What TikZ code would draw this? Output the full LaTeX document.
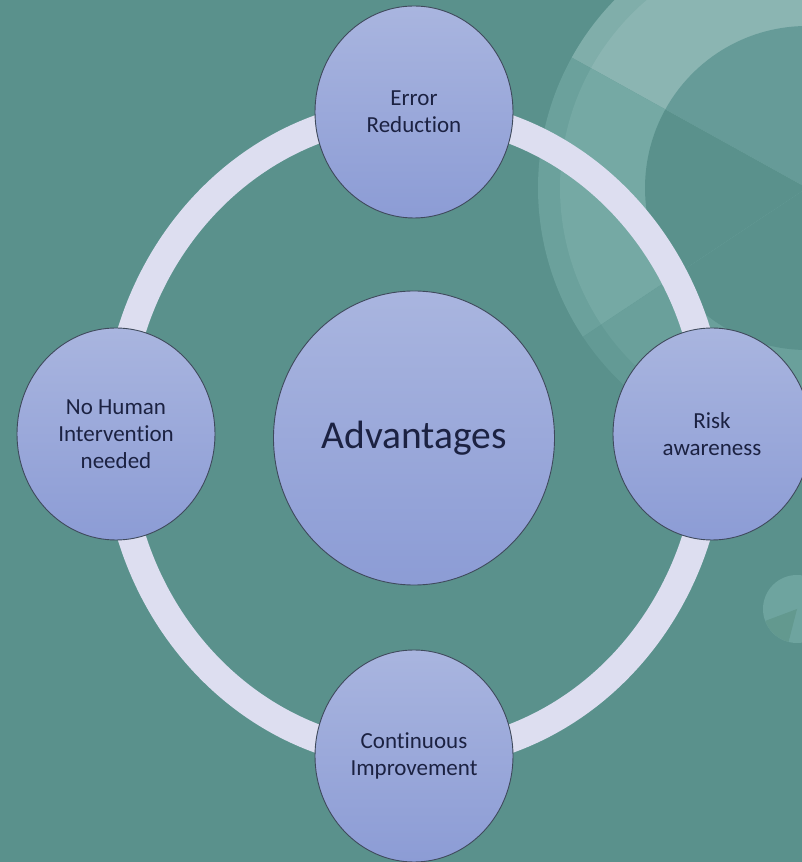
\documentclass[tikz,border=0pt]{standalone}
\usepackage{fontspec}
\setmainfont[Ligatures=NoCommon]{Carlito}
\usetikzlibrary{shapes.geometric}

\definecolor{bg}{HTML}{5A918C}
\definecolor{decoAo}{HTML}{80AEAA}
\definecolor{decoAr}{HTML}{8BB5B2}
\definecolor{decoAi}{HTML}{669B98}
\definecolor{decoBo}{HTML}{6BA19C}
\definecolor{decoBr}{HTML}{75A9A4}
\definecolor{decoCo}{HTML}{639A95}
\definecolor{decoCr}{HTML}{6AA09B}
\definecolor{dotcol}{HTML}{6EA49F}
\definecolor{dotwedge}{HTML}{63998F}
\definecolor{ringcol}{HTML}{DDDEF0}
\definecolor{bubbletop}{HTML}{A9B5DF}
\definecolor{bubblebot}{HTML}{8C9CD5}
\definecolor{bubbleedge}{HTML}{3F4A5C}
\definecolor{ink}{HTML}{1C2242}

\begin{document}
\begin{tikzpicture}[x=1pt,y=1pt,
  bubble/.style={ellipse, draw=bubbleedge, line width=0.9pt,
    top color=bubbletop, bottom color=bubblebot, text=ink,
    align=center, inner sep=0pt,
    minimum width=198pt, minimum height=212pt,
    font=\fontsize{23}{27}\selectfont},
  hub/.style={bubble, minimum width=281pt, minimum height=294pt,
    font=\fontsize{39.5}{46}\selectfont},
  loop/.style={draw=ringcol, line width=28pt}]

\useasboundingbox (0,0) rectangle (802,862);
\clip (0,0) rectangle (802,862);
\fill[bg] (0,0) rectangle (802,862);

% decorative concentric rings in the upper right corner
\coordinate (D) at (807,674);
\foreach \a/\b/\co/\cr/\ci in {60/151/decoAo/decoAr/decoAi,
                               151/213.6/decoBo/decoBr/bg,
                               213.6/300/decoCo/decoCr/bg}{
  \fill[\co] (D) -- ++(\a:269pt) arc[start angle=\a, end angle=\b, radius=269pt] -- cycle;
  \fill[\cr] (D) -- ++(\a:247pt) arc[start angle=\a, end angle=\b, radius=247pt] -- cycle;
  \fill[\ci] (D) -- ++(\a:162pt) arc[start angle=\a, end angle=\b, radius=162pt] -- cycle;
}

% small pie on the right edge
\coordinate (P) at (797,253);
\fill[dotcol] (P) circle[radius=34pt];
\fill[dotwedge] (P) -- ++(200.6:34pt) arc[start angle=200.6, end angle=255.6, radius=34pt] -- cycle;

% positions of the cycle stages
\coordinate (T) at (414,750);
\coordinate (R) at (712,428);
\coordinate (B) at (414,106);
\coordinate (L) at (116,428);

% the loop joining the stages
\draw[loop] (T) arc[start angle=90, end angle=0, x radius=298pt, y radius=322pt]
            arc[start angle=0, end angle=-90, x radius=298pt, y radius=322pt]
            arc[start angle=-90, end angle=-180, x radius=298pt, y radius=322pt]
            arc[start angle=-180, end angle=-270, x radius=298pt, y radius=322pt] -- cycle;

% stages
\node[hub] (adv) at (414,424) {Advantages};
\node[bubble] (err) at (T) {Error\\Reduction};
\node[bubble] (risk) at (R) {Risk\\awareness};
\node[bubble] (cont) at (B) {Continuous\\Improvement};
\node[bubble] (human) at (L) {No Human\\Intervention\\needed};
\end{tikzpicture}
\end{document}
